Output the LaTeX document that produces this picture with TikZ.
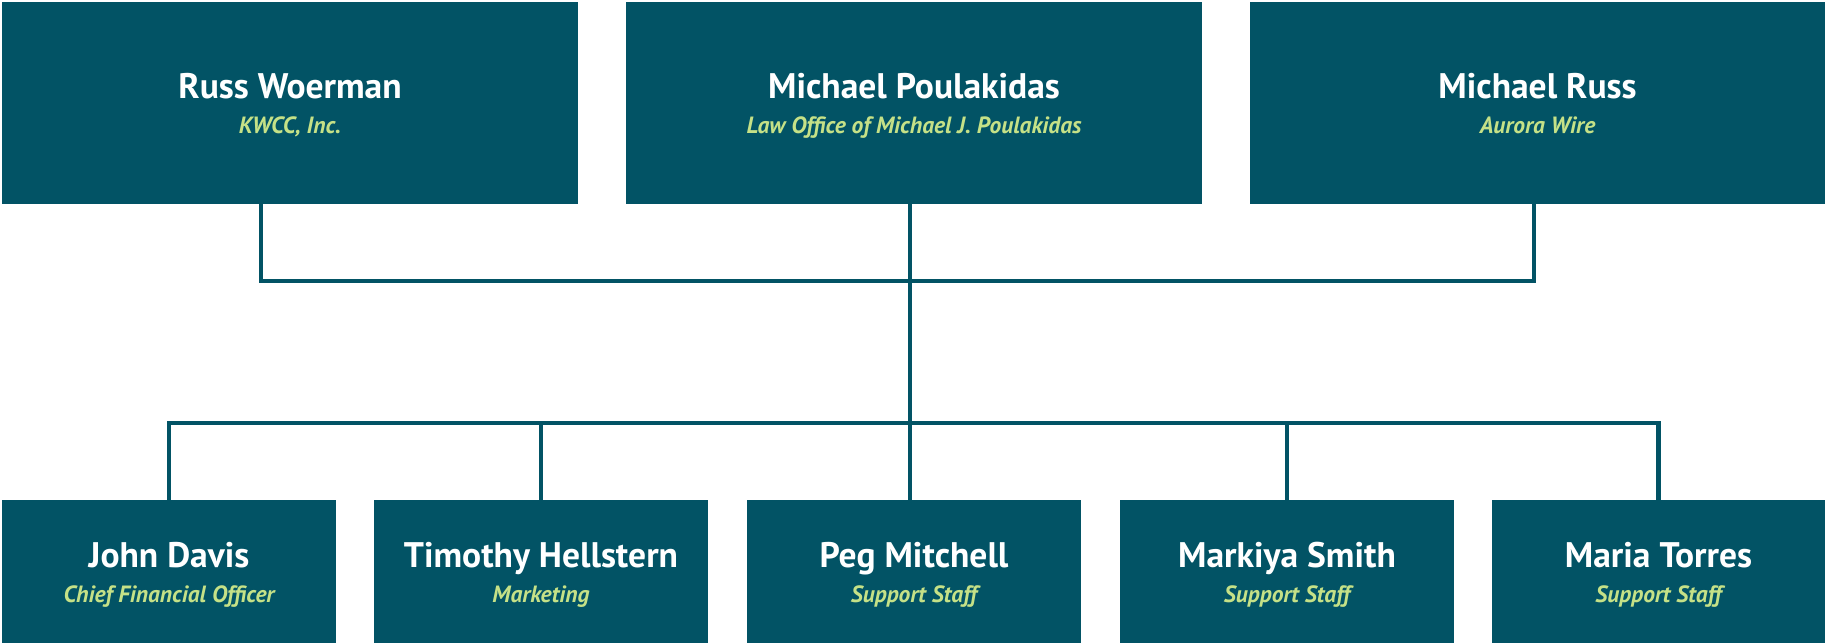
\documentclass[tikz,border=0pt]{standalone}
\usepackage{fontspec}
\setmainfont{PT Sans}
\usetikzlibrary{calc}
\definecolor{teal}{RGB}{2,83,101}
\definecolor{lime}{RGB}{197,225,135}
\tikzset{
  box/.style={fill=teal, draw=none, inner sep=0pt, outer sep=0pt},
  topbox/.style={box, minimum width=576pt, minimum height=202pt},
  botbox/.style={box, minimum width=334pt, minimum height=143pt},
  nm/.style={anchor=base, text=white, inner sep=0pt, font=\bfseries\fontsize{35.5}{38}\selectfont},
  sub/.style={anchor=base, text=lime, inner sep=0pt, font=\bfseries\itshape\fontsize{23.5}{26}\selectfont},
  conn/.style={draw=teal, line width=4.6pt, line cap=rect, line join=miter}
}
\begin{document}
\begin{tikzpicture}[x=1pt, y=-1pt]
\useasboundingbox (0,0) rectangle (1825,643);
% top row
\node[topbox] (t1) at (290,103) {};
\node[topbox] (t2) at (914,103) {};
\node[topbox, minimum width=575pt] (t3) at (1537.5,103) {};
% bottom row
\node[botbox] (b1) at (169,571.5) {};
\node[botbox] (b2) at (541,571.5) {};
\node[botbox] (b3) at (914,571.5) {};
\node[botbox] (b4) at (1287,571.5) {};
\node[botbox, minimum width=333pt] (b5) at (1658.5,571.5) {};
% junctions
\coordinate (j1) at (910,281);
\coordinate (j2) at (910,423);
% connectors
\draw[conn] ($(t1.south)+(-29,0)$) |- (j1) -| ($(t3.south)+(-3.5,0)$);
\draw[conn] ($(t2.south)+(-4,0)$) -- ($(b3.north)+(-4,0)$);
\draw[conn] (b1.north) |- (j2) -| (b5.north);
\draw[conn] (b2.north) -- (b2.north |- j2);
\draw[conn] (b4.north) -- (b4.north |- j2);
% texts
\node[nm] (t1n) at (290,98) {Russ Woerman};
\node[sub] (t1s) at (290,133) {KWCC, Inc.};
\node[nm] (t2n) at (914,98) {Michael Poulakidas};
\node[sub] (t2s) at (914,133) {Law Office of Michael J. Poulakidas};
\node[nm] (t3n) at (1537.5,98) {Michael Russ};
\node[sub] (t3s) at (1537.5,133) {Aurora Wire};
\node[nm] (b1n) at (169,567) {John Davis};
\node[sub] (b1s) at (169,602) {Chief Financial Officer};
\node[nm] (b2n) at (541,567) {Timothy Hellstern};
\node[sub] (b2s) at (541,602) {Marketing};
\node[nm] (b3n) at (914,567) {Peg Mitchell};
\node[sub] (b3s) at (914,602) {Support Staff};
\node[nm] (b4n) at (1287,567) {Markiya Smith};
\node[sub] (b4s) at (1287,602) {Support Staff};
\node[nm] (b5n) at (1658.5,567) {Maria Torres};
\node[sub] (b5s) at (1658.5,602) {Support Staff};
\end{tikzpicture}
\end{document}
